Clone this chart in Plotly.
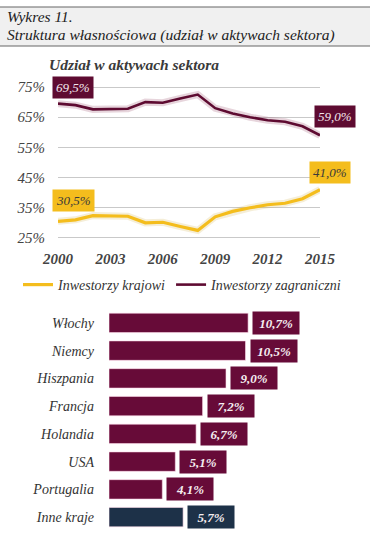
import plotly.graph_objects as go

W, H = 377, 540

years = list(range(2000, 2016))
foreign = [69.5, 69.0, 67.6, 67.8, 67.8, 70.0, 69.8, 71.2, 72.5, 68.0, 66.2, 65.0, 64.0, 63.5, 62.0, 59.0]
domestic = [30.5, 31.0, 32.4, 32.2, 32.2, 30.0, 30.2, 28.8, 27.5, 32.0, 33.8, 35.0, 36.0, 36.5, 38.0, 41.0]
year_ticks = [2000, 2003, 2006, 2009, 2012, 2015]
pct_ticks = [25, 35, 45, 55, 65, 75]

countries = ["Włochy", "Niemcy", "Hiszpania", "Francja", "Holandia", "USA", "Portugalia", "Inne kraje"]
shares = [10.7, 10.5, 9.0, 7.2, 6.7, 5.1, 4.1, 5.7]

MAROON = "#5e0b31"
BAR_MAROON = "#670b38"
NAVY = "#1d3148"
YELLOW = "#f4bd1d"
SERIF = "Liberation Serif"


def px_x(p):
    return p / W


def px_y(p):
    return (H - p) / H


def fmt(v):
    return f"{v:.1f}%".replace(".", ",")


fig = go.Figure()

# soft shadows under the lines
fig.add_trace(go.Scatter(x=years, y=domestic, mode="lines", line=dict(color="rgba(200,160,40,0.18)", width=7),
                         showlegend=False, hoverinfo="skip"))
fig.add_trace(go.Scatter(x=years, y=foreign, mode="lines", line=dict(color="rgba(120,20,60,0.18)", width=7),
                         showlegend=False, hoverinfo="skip"))
fig.add_trace(go.Scatter(x=years, y=domestic, mode="lines", name="<i>Inwestorzy krajowi</i>",
                         line=dict(color=YELLOW, width=3.2)))
fig.add_trace(go.Scatter(x=years, y=foreign, mode="lines", name="<i>Inwestorzy zagraniczni</i>",
                         line=dict(color=MAROON, width=2.6)))

bar_colors = [BAR_MAROON] * (len(countries) - 1) + [NAVY]
fig.add_trace(go.Bar(x=shares, y=countries, orientation="h", marker=dict(color=bar_colors,
                     line=dict(color="rgba(255,220,235,0.6)", width=1)),
                     xaxis="x2", yaxis="y2", showlegend=False, hoverinfo="skip"))

annotations = []
line_labels = [
    (years[0], foreign[0], MAROON, "#f3e6ec", -6, 16),
    (years[-1], foreign[-1], MAROON, "#f3e6ec", -6, 19),
    (years[-1], domestic[-1], YELLOW, "#3a3a3a", -11, 17),
    (years[0], domestic[0], YELLOW, "#3a3a3a", -6, 21),
]
for x, y, bg, fc, xs, ys in line_labels:
    annotations.append(dict(x=x, y=y, xref="x", yref="y", text="<i>" + fmt(y) + "</i>", showarrow=False,
                            xanchor="left", yanchor="middle", xshift=xs, yshift=ys,
                            bgcolor=bg, borderpad=3,
                            font=dict(family=SERIF, size=13, color=fc)))

for c, v, col in zip(countries, shares, bar_colors):
    annotations.append(dict(x=v, y=c, xref="x2", yref="y2", text="<b><i>" + fmt(v) + "</i></b>", showarrow=False,
                            xanchor="left", yanchor="middle", xshift=4, width=40, height=16,
                            bgcolor=col, borderpad=3,
                            font=dict(family=SERIF, size=13, color="#f5eef1")))

annotations.append(dict(x=px_x(5), y=px_y(17), xref="paper", yref="paper", text="<i>Wykres 11.</i>",
                        showarrow=False, xanchor="left", yanchor="middle",
                        font=dict(family=SERIF, size=15.5, color="#222")))
annotations.append(dict(x=px_x(5), y=px_y(35), xref="paper", yref="paper",
                        text="<i>Struktura własnościowa (udział w aktywach sektora)</i>",
                        showarrow=False, xanchor="left", yanchor="middle",
                        font=dict(family=SERIF, size=15.5, color="#222")))
annotations.append(dict(x=px_x(47), y=px_y(65), xref="paper", yref="paper",
                        text="<b><i>Udział w aktywach sektora</i></b>",
                        showarrow=False, xanchor="left", yanchor="middle",
                        font=dict(family=SERIF, size=15.5, color="#3a3a3a")))

shapes = [
    dict(type="rect", xref="paper", yref="paper", x0=0, x1=px_x(370), y0=px_y(46), y1=px_y(7),
         fillcolor="#f0f0f0", line=dict(width=0), layer="below"),
    dict(type="line", xref="paper", yref="paper", x0=0, x1=px_x(370), y0=px_y(7), y1=px_y(7),
         line=dict(color="#666", width=1.2)),
    dict(type="line", xref="paper", yref="paper", x0=0, x1=px_x(370), y0=px_y(46), y1=px_y(46),
         line=dict(color="#666", width=1.2)),
]

fig.update_layout(
    width=W, height=H, margin=dict(l=0, r=0, t=0, b=0, autoexpand=False),
    paper_bgcolor="white", plot_bgcolor="rgba(0,0,0,0)",
    xaxis=dict(domain=[px_x(58), px_x(320)], range=[2000, 2015], tickvals=year_ticks,
               ticktext=[f"<b><i>{t}</i></b>" for t in year_ticks], automargin=False,
               showgrid=False, zeroline=False, showline=False, ticks="", ticklabelstandoff=4,
               tickfont=dict(family=SERIF, size=15, color="#444")),
    yaxis=dict(domain=[px_y(244), px_y(81)], range=[23, 77], tickvals=pct_ticks, automargin=False,
               ticktext=[f"<i>{t}%</i>" for t in pct_ticks], showgrid=True, gridcolor="#c9c9c9", gridwidth=1,
               zeroline=False, showline=False, ticks="", ticklabelstandoff=12,
               tickfont=dict(family=SERIF, size=15, color="#444")),
    xaxis2=dict(domain=[px_x(109), 1], range=[0, 268 / 13], visible=False, anchor="y2", automargin=False),
    yaxis2=dict(domain=[px_y(531), px_y(309)], anchor="x2", autorange="reversed", automargin=False,
                tickvals=countries, ticktext=[f"<i>{c}</i>" for c in countries],
                categoryorder="array", categoryarray=countries, showgrid=False, zeroline=False,
                showline=False, ticks="", ticklabelstandoff=14,
                tickfont=dict(family=SERIF, size=14, color="#333")),
    bargap=0.3,
    legend=dict(orientation="h", x=px_x(18), y=px_y(285), xanchor="left", yanchor="middle",
                font=dict(family=SERIF, size=14, color="#333"),
                itemwidth=30, bgcolor="rgba(0,0,0,0)", tracegroupgap=0),
    annotations=annotations, shapes=shapes,
)

fig.write_html("out.html", config={"displayModeBar": False},
               post_script="document.body.style.margin='0';document.body.style.overflow='hidden';")
